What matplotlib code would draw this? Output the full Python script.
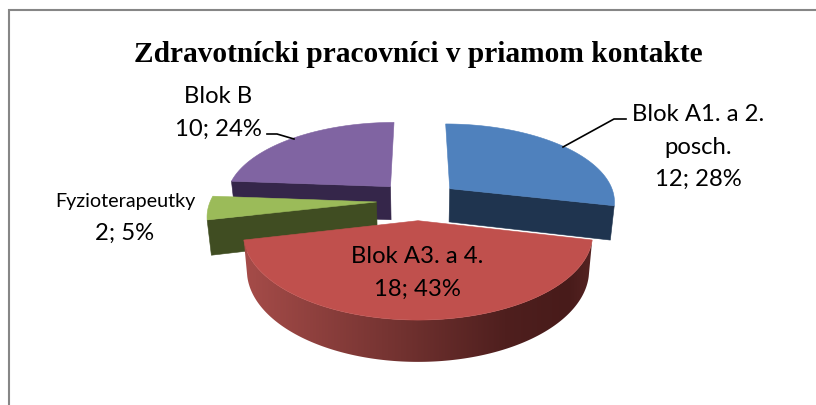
import numpy as np
import matplotlib
matplotlib.use("Agg")
import matplotlib.pyplot as plt
from matplotlib.patches import Polygon
from matplotlib.colors import LinearSegmentedColormap

title = "Zdravotnícki pracovníci v priamom kontakte"
category_lines = [["Blok A1. a 2.", "posch."], ["Blok A3. a 4."], ["Fyzioterapeutky"], ["Blok B"]]
values = [12, 18, 2, 10]
percents = [28, 43, 5, 24]

top_colors = ["#4F81BD", "#C0504D", "#9BBB59", "#8064A2"]
wall_colors = ["#1F344F", None, "#404D22", "#35264A"]
red_wall = LinearSegmentedColormap.from_list(
    "r", [(0, "#A64C49"), (0.45, "#723230"), (0.75, "#4F1F1E"), (0.93, "#481B1A"), (1, "#552322")])

CX, CY, R, RV, K, EXPL, DEPTH = 418, 200.5, 166, 77.7, 0.15, 0.25, 34

fig = plt.figure(figsize=(8.16, 4.05), dpi=100, facecolor="white")
ax = fig.add_axes([0, 0, 1, 1])
ax.set_xlim(0, 816)
ax.set_ylim(405, 0)
ax.axis("off")


def project(x, y, bottom=False):
    w = 1 + K * y
    sx = R * x / w
    sy = -RV * y / w
    if bottom:
        sx = sx * 0.98
        sy = sy + DEPTH / w
    return CX + sx, CY + sy


def area(poly):
    p = np.asarray(poly)
    x, y = p[:, 0], p[:, 1]
    return 0.5 * np.sum(x * np.roll(y, -1) - np.roll(x, -1) * y)


total = sum(values)
edges = np.concatenate([[0], np.cumsum(values)]) / total * 2 * np.pi
order = [3, 0, 2, 1]  # back to front

for i in order:
    a0, a1 = edges[i], edges[i + 1]
    am = (a0 + a1) / 2
    ox, oy = EXPL * np.sin(am), EXPL * np.cos(am)
    n = max(int(np.degrees(a1 - a0)) * 2, 8)
    th = np.linspace(a0, a1, n + 1)
    rim = [(ox + np.sin(t), oy + np.cos(t)) for t in th]
    apex = (ox, oy)
    color = wall_colors[i]

    def wall(p, q, limit=0):
        quad = [project(*p), project(*q), project(*q, bottom=True), project(*p, bottom=True)]
        if area(quad) < -limit and color is not None:
            ax.add_patch(Polygon(quad, closed=True, fc=color, ec=color, lw=0.4, zorder=1))

    if color is None:
        # gradient outer wall: whole rim band, clipped image gradient
        outline = [project(*p) for p in rim] + [project(*p, bottom=True) for p in rim[::-1]]
        clip = Polygon(outline, closed=True, transform=ax.transData)
        xmin, xmax = CX - 175, CX + 175
        im = ax.imshow(np.linspace(0, 1, 256)[None, :], extent=[xmin, xmax, 400, 200], cmap=red_wall,
                       vmin=0, vmax=1, aspect="auto", interpolation="bilinear", zorder=1)
        im.set_clip_path(clip)
        ax.set_xlim(0, 816)
        ax.set_ylim(405, 0)
    else:
        for p, q in zip(rim[:-1], rim[1:]):
            wall(p, q)
        wall(apex, rim[0], 1000)
        wall(rim[-1], apex, 1000)
    top = [project(*apex)] + [project(*p) for p in rim]
    ax.add_patch(Polygon(top, closed=True, fc=top_colors[i], ec=top_colors[i], lw=0.4, zorder=1))

# chart border: only left and top edges are in the crop
ax.plot([9, 9, 816], [405, 10, 10], color="#868686", lw=1.5, solid_joinstyle="miter", zorder=3)

ax.text(418, 54, title, ha="center", va="center", family="Liberation Serif",
        weight="bold", fontsize=21.2, color="black")

FONT = "Lato"
label_x = [698, 417, 125, 218]
first_baseline = [121, 263, 207, 103]
name_size = [17.2, 17.2, 14.2, 17.2]
value_size = 17.2
LINE = 32.5
for lines, v, pc, x, y0, fs in zip(category_lines, values, percents, label_x, first_baseline, name_size):
    y = y0
    for line in lines:
        ax.text(x, y, line, ha="center", va="baseline", family=FONT, fontsize=fs, color="black", zorder=4)
        y += LINE
    ax.text(x, y, f"{v}; {pc}%", ha="center", va="baseline", family=FONT, fontsize=value_size,
            color="black", zorder=4)

leaders = [([563, 614, 626], [147, 119, 119]), ([267, 277, 294], [134, 134, 139])]
for lx, ly in leaders:
    ax.plot(lx, ly, color="black", lw=1.2, zorder=2)

fig.savefig("out.png", dpi=100)
